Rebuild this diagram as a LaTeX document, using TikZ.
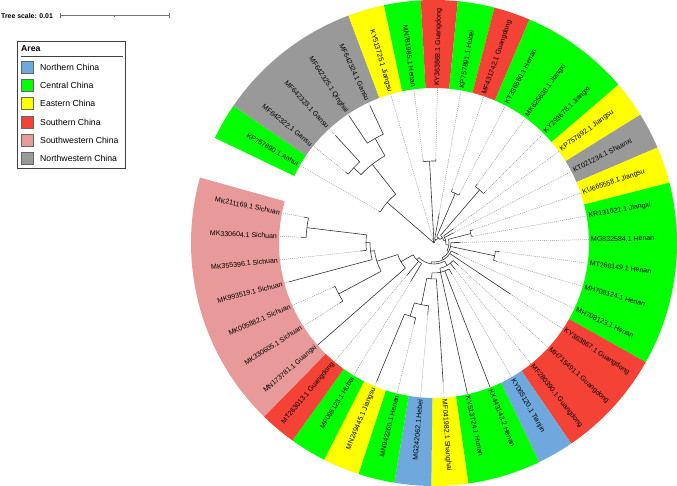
\documentclass[tikz,border=0pt]{standalone}
\usepackage{fontspec}
\setmainfont{Liberation Sans}
\definecolor{cg}{RGB}{0,255,0}
\definecolor{cy}{RGB}{255,255,0}
\definecolor{cr}{RGB}{244,67,54}
\definecolor{cp}{RGB}{232,153,153}
\definecolor{cgr}{RGB}{153,153,153}
\definecolor{cb}{RGB}{111,168,220}
\newcommand\tbr[3]{\draw[br] (#1:#2) -- (#1:#3);}
\newcommand\tarc[3]{\draw[br] (#1:#3) arc[start angle=#1, end angle=#2, radius=#3];}
\newcommand\tleaf[3]{\draw[br] (#1:#2) -- (#1:#3); \draw[dl] (#1:#3) -- (#1:155);}
\begin{document}
\begin{tikzpicture}[x=1pt,y=1pt,
  br/.style={draw=black!80, line width=0.6pt},
  dl/.style={draw=black!45, line width=0.45pt, dash pattern=on 1pt off 1pt},
  lab/.style={inner sep=0pt, font=\fontsize{7}{8}\selectfont},
  legtxt/.style={anchor=west, inner sep=0pt, font=\fontsize{8.7}{10}\selectfont}]
\useasboundingbox (0,0) rectangle (677,486);

% scale bar
\node[anchor=west, inner sep=0pt, font=\bfseries\fontsize{6.9}{8}\selectfont] (ts) at (1,470.3) {Tree scale: 0.01};
\draw[black!55, line width=0.5pt] (60,470.3) -- (169,470.3);
\draw[black!55, line width=0.5pt] (60,468) -- (60,472.5) (169,468) -- (169,472.5) (114.5,469.3) -- (114.5,471.3);

% legend
\draw[black!75, line width=0.6pt] (17.7,318) rectangle (125.3,445);
\node[anchor=west, inner sep=0pt, font=\bfseries\fontsize{8.7}{10}\selectfont] (area) at (21,437) {Area};
\draw[black!75, line width=0.6pt] (20.5,429.5) -- (123.3,429.5);
\foreach \y/\c/\t [count=\k] in {419/cb/Northern China, 400.7/cg/Central China, 382.3/cy/Eastern China, 364/cr/Southern China, 345.7/cp/Southwestern China, 327.3/cgr/Northwestern China}{
  \draw[black!60, line width=0.5pt, fill=\c] (21,\y-6) rectangle (33,\y+6);
  \node[legtxt] (leg\k) at (40,\y) {\t};
}

\begin{scope}[shift={(434,243)}]
% colour ring
\foreach \a/\b/\c in {154.375/145.625/cg, 145.625/110.625/cgr, 110.625/101.875/cy, 101.875/93.125/cg, 93.125/84.375/cr, 84.375/75.625/cg, 75.625/66.875/cr, 66.875/40.625/cg, 40.625/31.875/cy, 31.875/23.125/cgr, 23.125/14.375/cy, 14.375/-29.375/cg, -29.375/-55.625/cr, -55.625/-64.375/cb, -64.375/-81.875/cg, -81.875/-90.625/cy, -90.625/-99.375/cb, -99.375/-108.125/cg, -108.125/-116.875/cy, -116.875/-125.625/cg, -125.625/-134.375/cr, -134.375/-195.625/cp}{
  \fill[\c] (\a:155) arc[start angle=\a, end angle=\b, radius=155] -- (\b:243) arc[start angle=\b, end angle=\a, radius=243] -- cycle;
}
% labels
\foreach \i/\t in {1/KP757890.1 Anhui, 2/MF642322.1 Gansu, 3/MF642323.1 Gansu, 4/MF642325.1 Qinghai, 5/MF642324.1 Gansu, 6/KY513725.1 Jiangsu, 7/MN781985.1 Henan, 8/KY363868.1 Guangdong, 9/KP757891.1 Hubei, 10/MF431742.1 Guangdong, 11/KT336560.1 Henan, 12/MK625638.1 Jiangxi, 13/KY293678.1 Jiangxi, 14/KP757892.1 Jiangsu, 15/KT021234.1 Shaanxi, 16/KU665558.1 Jiangsu, 17/KR131621.1 Jiangxi, 18/MG832584.1 Henan, 19/MT260149.1 Henan, 20/MH708124.1 Henan, 21/MH708123.1 Henan, 22/KY363867.1 Guangdong, 23/MH715491.1 Guangdong, 24/MF280390.1 Guangdong, 25/KY065120.1 Tianjin, 26/KX443143.2 Henan, 27/KY513724.1 Hunan, 28/MF041982.1 Shanghai, 29/MG242062.1 Hebei, 30/MN942260.1 Henan, 31/MN249445.1 Jiangsu, 32/MF095123.1 Hubei, 33/MT263013.1 Guangdong, 34/MN173781.1 Guangxi, 35/MK330605.1 Sichuan, 36/MK005882.1 Sichuan, 37/MK993519.1 Sichuan, 38/MK355396.1 Sichuan, 39/MK330604.1 Sichuan, 40/MK211169.1 Sichuan}{
  \pgfmathsetmacro\a{150-(\i-1)*8.75}
  \ifnum\i<8
    \node[lab, anchor=east, rotate=\a+180] (l\i) at (\a:157) {\t};
  \else\ifnum\i<29
    \node[lab, anchor=west, rotate=\a] (l\i) at (\a:157) {\t};
  \else
    \node[lab, anchor=east, rotate=\a+180] (l\i) at (\a:157) {\t};
  \fi\fi
}
% tree: root
\tleaf{106.25}{0}{4}
\tbr{139.0625}{0}{62}
\tbr{93.125}{0}{82}
\tbr{64.67}{0}{4}
% AG clade
\tarc{150}{128.125}{62}
\tleaf{150}{62}{64}
\tbr{128.125}{62}{100}
\tarc{136.875}{119.375}{100}
\tbr{136.875}{100}{110}
\tbr{119.375}{100}{120}
\tarc{141.25}{132.5}{110}
\tleaf{141.25}{110}{113}
\tleaf{132.5}{110}{146}
\tarc{123.75}{115}{120}
\tleaf{123.75}{120}{153}
\tleaf{115}{120}{151}
% HK
\tarc{97.5}{88.75}{82}
\tleaf{97.5}{82}{84}
\tleaf{88.75}{82}{84}
% N1
\tarc{80}{49.33}{4}
\tleaf{80}{4}{30}
\tbr{49.33}{4}{7}
% N2
\tarc{66.875}{31.79}{7}
\tbr{66.875}{7}{54}
\tbr{31.79}{7}{10}
\tarc{71.25}{62.5}{54}
\tleaf{71.25}{54}{57}
\tleaf{62.5}{54}{56}
% N3
\tarc{49.375}{14.2}{10}
\tbr{49.375}{10}{70}
\tbr{14.2}{10}{12}
\tarc{53.75}{45}{70}
\tleaf{53.75}{70}{73}
\tleaf{45}{70}{72}
% N4
\tarc{36.25}{-7.85}{12}
\tleaf{36.25}{12}{24}
\tleaf{27.5}{12}{22}
\tbr{-7.85}{12}{15}
% N5
\tarc{14.375}{-30.08}{15}
\tbr{14.375}{15}{38}
\tbr{-30.08}{15}{17}
\tarc{18.75}{10}{38}
\tleaf{18.75}{38}{41}
\tleaf{10}{38}{40}
% N6
\tarc{1.25}{-61.40}{17}
\tleaf{1.25}{17}{26}
\tbr{-11.875}{17}{62}
\tbr{-61.40}{17}{19}
\tarc{-7.5}{-16.25}{62}
\tleaf{-7.5}{62}{66}
\tleaf{-16.25}{62}{66}
% N7
\tarc{-25}{-97.803}{19}
\tleaf{-25}{19}{27}
\tleaf{-33.75}{19}{92}
\tbr{-97.803}{19}{21}
% N8
\tarc{-59.727}{-135.879}{21}
\tbr{-59.727}{21}{26}
\tbr{-135.879}{21}{24}
% D
\tarc{-42.5}{-76.953}{26}
\tleaf{-42.5}{26}{33}
\tleaf{-51.25}{26}{34}
\tbr{-76.953}{26}{30}
% D1
\tarc{-60}{-93.906}{30}
\tleaf{-60}{30}{36}
\tleaf{-68.75}{30}{155}
\tleaf{-77.5}{30}{154}
\tbr{-93.906}{30}{36}
% B
\tarc{-86.25}{-101.5625}{36}
\tleaf{-86.25}{36}{140}
\tbr{-101.5625}{36}{63}
\tarc{-95}{-108.125}{63}
\tleaf{-95}{63}{72}
\tbr{-108.125}{63}{77}
\tarc{-103.75}{-112.5}{77}
\tleaf{-103.75}{77}{84}
\tleaf{-112.5}{77}{150}
% S
\tarc{-121.25}{-150.508}{24}
\tleaf{-121.25}{24}{45}
\tleaf{-130}{24}{42}
\tbr{-150.508}{24}{38}
\tarc{-138.75}{-162.266}{38}
\tleaf{-138.75}{38}{155}
\tbr{-162.266}{38}{60}
\tarc{-151.875}{-172.656}{60}
\tbr{-151.875}{60}{108}
\tbr{-172.656}{60}{64}
\tarc{-147.5}{-156.25}{108}
\tleaf{-147.5}{108}{112}
\tleaf{-156.25}{108}{110}
\tarc{-165}{-180.3125}{64}
\tleaf{-165}{64}{150}
\tbr{-180.3125}{64}{68}
\tarc{-173.75}{-186.875}{68}
\tleaf{-173.75}{68}{74}
\tbr{-186.875}{68}{128}
\tarc{-182.5}{-191.25}{128}
\tleaf{-182.5}{128}{133}
\tleaf{-191.25}{128}{133}
\end{scope}
\end{tikzpicture}
\end{document}
